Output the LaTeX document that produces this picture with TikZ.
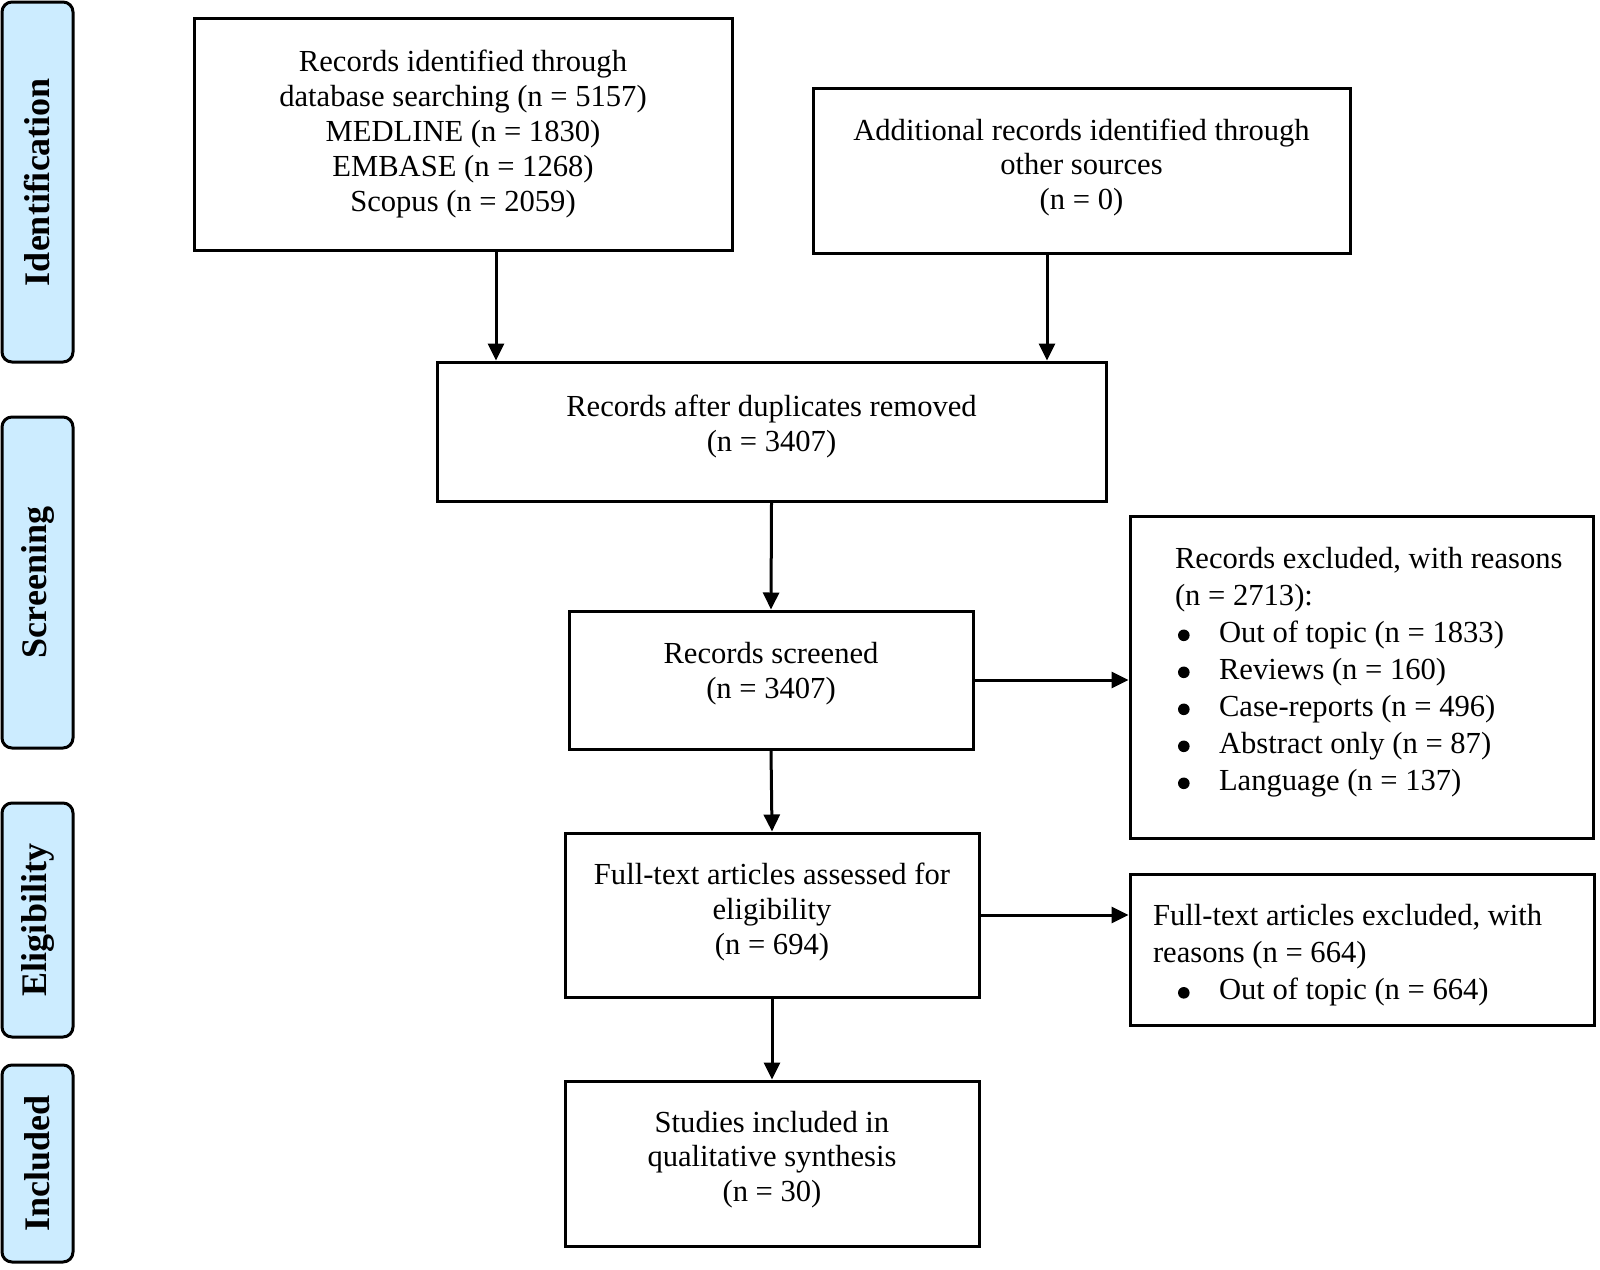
\documentclass[tikz,border=0pt]{standalone}
\usepackage{fontspec}
\setmainfont{Liberation Serif}
\usetikzlibrary{arrows.meta}
\definecolor{phasefill}{RGB}{204,236,255}
\newcommand{\reasonitem}[2]{\makebox[#1][l]{\hspace*{#2}\tikz[baseline=-3.5pt]\fill (0,0) circle (2.9pt);}}

\begin{document}
\begin{tikzpicture}[x=0.5pt,y=-0.5pt,
    box/.style={draw,line width=1.5pt,align=center,inner sep=0pt,
      font=\fontsize{15.3}{17.4}\selectfont},
    listbox/.style={box,align=flush left,font=\fontsize{15.3}{18.5}\selectfont},
    phase/.style={draw,line width=1.5pt,rounded corners=5pt,fill=phasefill,
      rotate=90,minimum height=35.5pt,inner sep=0pt,
      font=\fontsize{18}{20}\selectfont\bfseries},
    arr/.style={line width=1.5pt,-{Triangle[length=8.5pt,width=8pt]}}]
  \useasboundingbox (0,0) rectangle (1600,1269);

  % phase bars on the left
  \foreach \y/\len/\name/\txt in {182/180/ident/Identification,
      582.5/165.5/screening/Screening,920/117/eligib/Eligibility,
      1163.5/98.5/included/Included}{
    \node[phase,minimum width=\len pt] (bar\name) at (37.5,\y) {\txt};}

  % flow boxes
  \node[box,minimum width=269pt,minimum height=116pt] (dbsearch) at (463,134)
    {Records identified through\\ database searching (n = 5157)\\
     MEDLINE (n = 1830)\\ EMBASE (n = 1268)\\ Scopus (n = 2059)};
  \node[box,text depth=6.3pt,minimum width=268.5pt,minimum height=82.5pt] (othersrc) at (1081.5,170.5)
    {Additional records identified through\\ other sources\\ (n = 0)};
  \node[box,text depth=8.3pt,minimum width=334.5pt,minimum height=69.5pt] (dedup) at (771.5,431.5)
    {Records after duplicates removed\\ (n = 3407)};
  \node[box,text depth=9.3pt,minimum width=202pt,minimum height=69pt] (screened) at (771,680)
    {Records screened\\ (n = 3407)};
  \node[listbox,text depth=119.3pt,text width=186.5pt,minimum width=231.5pt,minimum height=161pt]
    (recexcl) at (1361.5,677)
    {\mbox{Records excluded, with reasons}\\ (n = 2713):\\
     \reasonitem{22pt}{1.5pt}Out of topic (n = 1833)\\
     \reasonitem{22pt}{1.5pt}Reviews (n = 160)\\
     \reasonitem{22pt}{1.5pt}Case-reports (n = 496)\\
     \reasonitem{22pt}{1.5pt}Abstract only (n = 87)\\
     \reasonitem{22pt}{1.5pt}Language (n = 137)};
  \node[box,text depth=6.3pt,minimum width=207pt,minimum height=82pt] (fulltext) at (772,915)
    {Full-text articles assessed for\\ eligibility\\ (n = 694)};
  \node[listbox,text depth=34.3pt,text width=209pt,minimum width=232pt,minimum height=75.5pt]
    (ftexcl) at (1362,949.5)
    {Full-text articles excluded, with\\ reasons (n = 664)\\
     \reasonitem{33pt}{12.5pt}Out of topic (n = 664)};
  \node[box,text depth=7.3pt,minimum width=207pt,minimum height=82.5pt] (studies) at (772,1163.5)
    {Studies included in\\ qualitative synthesis\\ (n = 30)};

  % connectors
  \coordinate (leftcol) at (496,300);
  \coordinate (rightcol) at (1047,300);
  \draw[arr] (leftcol |- dbsearch.south) -- (leftcol |- dedup.north);
  \draw[arr] (rightcol |- othersrc.south) -- (rightcol |- dedup.north);
  \draw[arr] (dedup.south) -- (screened.north);
  \draw[arr] (screened.east) -- (screened.east -| recexcl.west);
  \draw[arr] (screened.south) -- (fulltext.north);
  \draw[arr] (fulltext.east) -- (fulltext.east -| ftexcl.west);
  \draw[arr] (fulltext.south) -- (studies.north);
\end{tikzpicture}
\end{document}
